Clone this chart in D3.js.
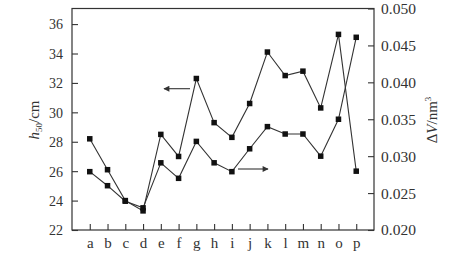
<!DOCTYPE html>
<html>
<head>
<meta charset="utf-8">
<script src="https://cdn.jsdelivr.net/npm/d3@7"></script>
<style>
  body { margin: 0; background: #fff; }
  svg text { font-family: "Liberation Serif", "DejaVu Serif", serif; fill: #333; }
</style>
</head>
<body>
<svg id="chart" width="453" height="256"></svg>
<script>
const categories = ["a","b","c","d","e","f","g","h","i","j","k","l","m","n","o","p"];
const h50 = [28.2,26.1,24.0,23.3,28.5,27.0,32.3,29.3,28.3,30.6,34.1,32.5,32.8,30.3,35.3,26.0];
const deltaV = [0.0279,0.0260,0.0239,0.0230,0.0291,0.0270,0.0320,0.0291,0.0279,0.0310,0.0340,0.0330,0.0330,0.0300,0.0350,0.0461];
const leftTicks = [22,24,26,28,30,32,34,36];
const rightTicks = [0.020,0.025,0.030,0.035,0.040,0.045,0.050];

const svg = d3.select("#chart");
const m = {left:72, right:374, top:8.5, bottom:230};
const ink = "#333";

const x = d3.scalePoint().domain(categories).range([m.left, m.right]).padding(1);
const yL = d3.scaleLinear().domain([22, 37.06]).range([m.bottom, m.top]);
const yR = d3.scaleLinear().domain([0.020, 0.050]).range([m.bottom, m.top]);

// frame
svg.append("rect")
    .attr("x", m.left).attr("y", m.top)
    .attr("width", m.right - m.left).attr("height", m.bottom - m.top)
    .attr("fill", "none").attr("stroke", ink).attr("stroke-width", 1.2);

// axes, ticks inward
const gL = svg.append("g").attr("transform", `translate(${m.left},0)`)
    .call(d3.axisLeft(yL).tickValues(leftTicks).tickSizeInner(-6).tickSizeOuter(0).tickPadding(9));
const gR = svg.append("g").attr("transform", `translate(${m.right},0)`)
    .call(d3.axisRight(yR).tickValues(rightTicks).tickFormat(d3.format(".3f")).tickSizeInner(-6).tickSizeOuter(0).tickPadding(7));
const gB = svg.append("g").attr("transform", `translate(0,${m.bottom})`)
    .call(d3.axisBottom(x).tickSizeInner(-6).tickSizeOuter(0).tickPadding(7));

[gL, gR, gB].forEach(g => {
  g.select(".domain").remove();
  g.selectAll(".tick line").attr("stroke", ink).attr("stroke-width", 1.1);
  g.selectAll(".tick text").attr("font-size", 14).attr("fill", ink)
   .style("font-family", "'Liberation Serif', serif");
});
gL.selectAll(".tick text").attr("dy", "0.35em");
gR.selectAll(".tick text").attr("font-size", 15.5);
gB.selectAll(".tick text").attr("font-size", 15);

// lines
const lineL = d3.line().x((d,i) => x(categories[i])).y(d => yL(d));
const lineR = d3.line().x((d,i) => x(categories[i])).y(d => yR(d));

svg.append("path").datum(h50).attr("d", lineL)
    .attr("fill", "none").attr("stroke", ink).attr("stroke-width", 1.1);
svg.append("path").datum(deltaV).attr("d", lineR)
    .attr("fill", "none").attr("stroke", ink).attr("stroke-width", 1.1);

const s = 5.5;
svg.append("g").selectAll("rect").data(h50).join("rect")
    .attr("x", (d,i) => x(categories[i]) - s/2).attr("y", d => yL(d) - s/2)
    .attr("width", s).attr("height", s).attr("fill", "#111");
svg.append("g").selectAll("rect").data(deltaV).join("rect")
    .attr("x", (d,i) => x(categories[i]) - s/2).attr("y", d => yR(d) - s/2)
    .attr("width", s).attr("height", s).attr("fill", "#111");

// arrows
const defs = svg.append("defs");
defs.append("marker").attr("id", "ah").attr("viewBox", "0 0 10 10")
    .attr("refX", 9).attr("refY", 5).attr("markerWidth", 9).attr("markerHeight", 6)
    .attr("markerUnits", "userSpaceOnUse").attr("orient", "auto")
    .append("path").attr("d", "M0,0 L10,5 L0,10 Z").attr("fill", ink);

svg.append("line").attr("x1", 190).attr("y1", 88.7).attr("x2", 164).attr("y2", 88.7)
    .attr("stroke", ink).attr("stroke-width", 1.1).attr("marker-end", "url(#ah)");
svg.append("line").attr("x1", 238).attr("y1", 169).attr("x2", 268).attr("y2", 169)
    .attr("stroke", ink).attr("stroke-width", 1.1).attr("marker-end", "url(#ah)");

// axis titles
const tL = svg.append("text").attr("transform", "translate(39,120) rotate(-90)")
    .attr("text-anchor", "middle").attr("font-size", 15);
tL.append("tspan").attr("font-style", "italic").text("h");
tL.append("tspan").attr("font-size", 9).attr("dy", 3).text("50");
tL.append("tspan").attr("dy", -3).text("/cm");

const tR = svg.append("text").attr("transform", "translate(437,120) rotate(-90)")
    .attr("text-anchor", "middle").attr("font-size", 15);
tR.append("tspan").text("Δ");
tR.append("tspan").attr("font-style", "italic").text("V");
tR.append("tspan").text("/nm");
tR.append("tspan").attr("font-size", 9).attr("dy", -6).text("3");
</script>
</body>
</html>
